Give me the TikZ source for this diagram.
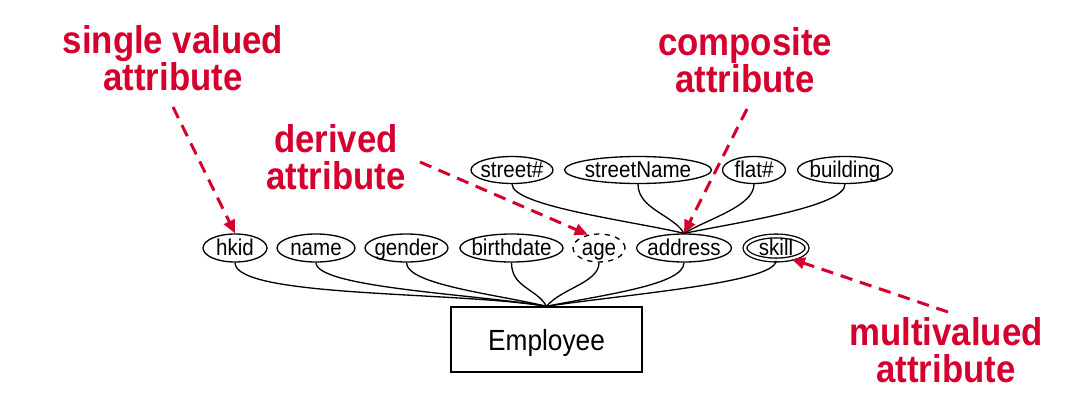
\documentclass[tikz,border=0pt]{standalone}
\usepackage{fontspec}
\setmainfont{Liberation Sans}[FakeStretch=0.9]
\usetikzlibrary{arrows.meta,shapes.geometric}
\definecolor{notered}{RGB}{214,0,46}

\begin{document}
\begin{tikzpicture}[x=0.02cm,y=-0.02cm,
  attr/.style={draw,ellipse,line width=0.75pt,inner sep=-2pt,minimum height=0.56cm,text height=10pt,text depth=2pt,font=\fontsize{13}{15}\selectfont},
  entity/.style={draw,rectangle,line width=0.8pt,minimum width=3.82cm,minimum height=1.3cm,text depth=0pt,font=\fontsize{16.6}{19}\selectfont},
  link/.style={line width=0.75pt},
  note/.style={text=notered,align=center,font=\bfseries\fontsize{22}{21}\selectfont},
  pointer/.style={draw=notered,line width=1.7pt,dash pattern=on 7pt off 4.5pt,-{Triangle[length=7.5pt,width=6.5pt]}}]
\useasboundingbox (0,0) rectangle (1078,416);

% Entity
\node[entity] (emp) at (546.5,339.5) {Employee};

% Attributes of Employee
\node[attr,minimum width=1.28cm] (hkid) at (235,248) {hkid};
\node[attr,minimum width=1.56cm] (name) at (316,248) {name};
\node[attr,minimum width=1.66cm] (gender) at (406.5,248) {gender};
\node[attr,minimum width=2.06cm] (birthdate) at (511.5,248) {birthdate};
\node[attr,dashed,minimum width=1.04cm] (age) at (599,248) {age};
\node[attr,minimum width=1.9cm] (address) at (684,248) {address};
\node[attr,double,double distance=1.4pt,minimum width=1.24cm,minimum height=0.48cm] (skill) at (776,248) {skill};

% Parts of address
\node[attr,minimum width=1.64cm,minimum height=0.54cm] (streetno) at (512,170) {street\#};
\node[attr,minimum width=2.94cm,minimum height=0.54cm] (streetname) at (638,170) {streetName};
\node[attr,minimum width=1.26cm,minimum height=0.54cm] (flatno) at (754,170) {flat\#};
\node[attr,minimum width=1.9cm,minimum height=0.54cm] (building) at (845,170) {building};

% Links to Employee
\draw[link] (hkid.south) .. controls +(0,35) and +(-90,-15) .. (emp.north);
\draw[link] (name.south) .. controls +(0,25) and +(-70,-12) .. (emp.north);
\draw[link] (gender.south) .. controls +(0,22) and +(-50,-12) .. (emp.north);
\draw[link] (birthdate.south) .. controls +(0,25) and +(-10,-18) .. (emp.north);
\draw[link] (age.south) .. controls +(0,20) and +(15,-18) .. (emp.north);
\draw[link] (address.south) .. controls +(0,22) and +(60,-12) .. (emp.north);
\draw[link] (skill.south) .. controls +(0,22) and +(80,-12) .. (emp.north);

% Links to address
\draw[link] (streetno.south) .. controls +(0,22) and +(-50,-12) .. (address.north);
\draw[link] (streetname.south) .. controls +(0,25) and +(-10,-18) .. (address.north);
\draw[link] (flatno.south) .. controls +(0,22) and +(25,-15) .. (address.north);
\draw[link] (building.south) .. controls +(0,22) and +(60,-12) .. (address.north);

% Notes (base = last line)
\node[note,anchor=base] (singlenote) at (173,90) {single valued\\attribute};
\node[note,anchor=base] (derivednote) at (336,189) {derived\\attribute};
\node[note,anchor=base] (compnote) at (745,92) {composite\\attribute};
\node[note,anchor=base] (multinote) at (946,382) {multivalued\\attribute};

\coordinate (singlefrom) at (173,107);
\coordinate (derivedfrom) at (420,162);
\coordinate (compfrom) at (747,109);
\coordinate (multifrom) at (948,312);

\draw[pointer] (singlefrom) -- (hkid.north);
\draw[pointer] (derivedfrom) -- (age.130);
\draw[pointer] (compfrom) -- (address.north);
\draw[pointer] (multifrom) -- (skill.-35);
\end{tikzpicture}
\end{document}
